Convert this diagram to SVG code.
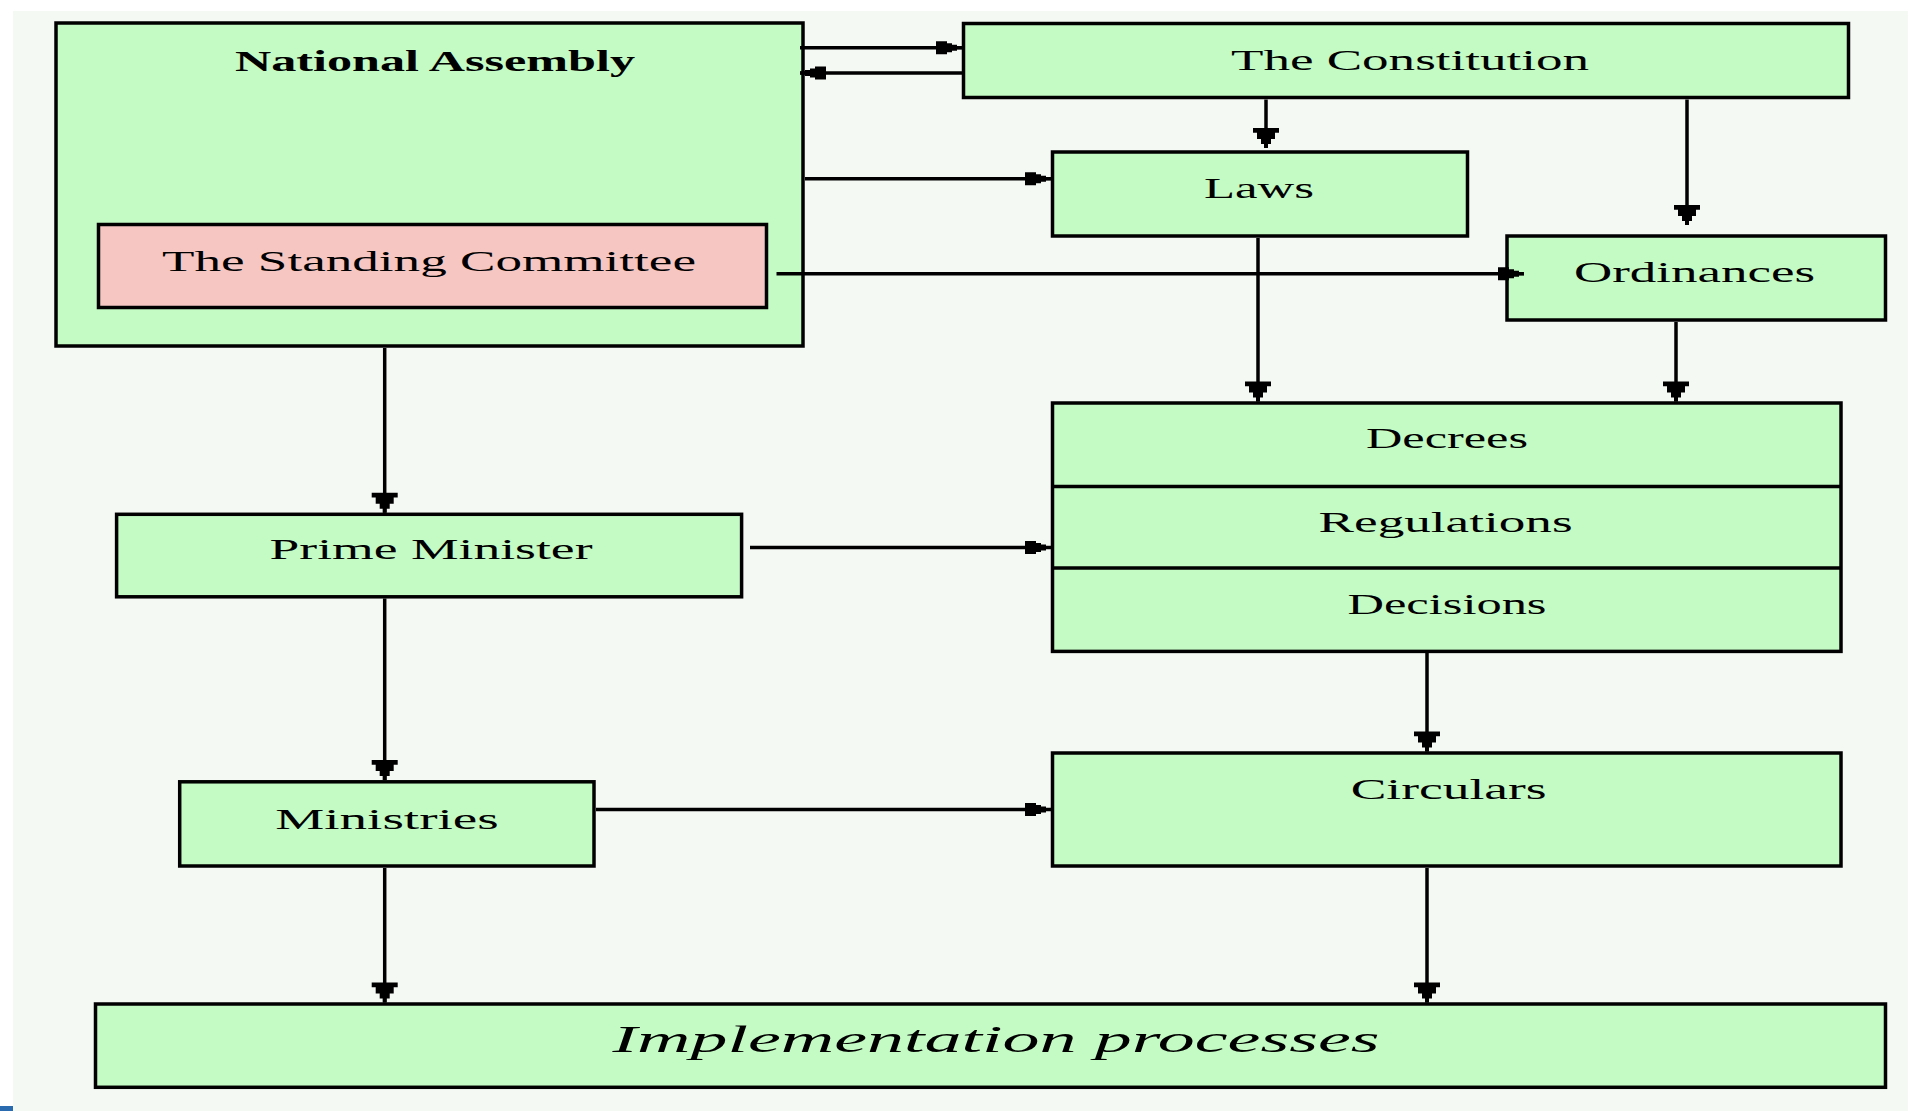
<svg xmlns="http://www.w3.org/2000/svg" width="1908" height="1111" viewBox="0 0 1908 1111">
<style>
.box{fill:#c4fac4;stroke:#000;stroke-width:3.5}
.pink{fill:#f6c6c3;stroke:#000;stroke-width:3.5}
.div{stroke:#000;stroke-width:3.5;fill:none}
.lbl{font-family:"Liberation Serif","Times New Roman",serif;font-size:29px;fill:#000;text-anchor:middle}
.bold{font-weight:bold}
.ital{font-style:italic;font-size:38px}
.con{stroke:#000;stroke-width:3.5;fill:none}
.v{marker-end:url(#av)}
.h{marker-end:url(#ah)}
</style>
<defs>
<marker id="av" markerUnits="userSpaceOnUse" orient="auto" refX="0" refY="0" markerWidth="40" markerHeight="40" overflow="visible">
<polygon points="-20,-13 -15.3,-13 -15.3,-9 -9,-9 -9,-5 -4,-5 -4,-2 0,-2 0,2 -4,2 -4,5 -9,5 -9,9 -15.3,9 -15.3,13 -20,13" fill="#000"/>
</marker>
<marker id="ah" markerUnits="userSpaceOnUse" orient="auto" refX="0" refY="0" markerWidth="40" markerHeight="40" overflow="visible">
<polygon points="-26,-6.5 -15,-6.5 -15,-4.5 -10,-4.5 -10,-3 -5,-3 -5,-1.5 0,-1.5 0,1.5 -5,1.5 -5,3 -10,3 -10,4.5 -15,4.5 -15,6.5 -26,6.5" fill="#000"/>
</marker>
</defs>
<rect x="0" y="0" width="1908" height="1111" fill="#ffffff"/>
<rect x="13" y="11" width="1895" height="1100" fill="#f4f9f4"/>
<rect x="0" y="1106" width="13" height="5" fill="#2a6bb0"/>

<g id="national-assembly">
<rect class="box" x="56" y="23" width="747" height="323"/>
<text class="lbl bold" x="435" y="71.4" textLength="400" lengthAdjust="spacingAndGlyphs">National Assembly</text>
</g>
<g id="standing-committee">
<rect class="pink" x="98.5" y="224.5" width="668" height="83"/>
<text class="lbl" x="429" y="270.7" textLength="534" lengthAdjust="spacingAndGlyphs">The Standing Committee</text>
</g>
<g id="constitution">
<rect class="box" x="963.5" y="23.5" width="885" height="74"/>
<text class="lbl" x="1410" y="69.6" textLength="358" lengthAdjust="spacingAndGlyphs">The Constitution</text>
</g>
<g id="laws">
<rect class="box" x="1052.5" y="152" width="415" height="84"/>
<text class="lbl" x="1259" y="198" textLength="110" lengthAdjust="spacingAndGlyphs">Laws</text>
</g>
<g id="ordinances">
<rect class="box" x="1507" y="236" width="378.5" height="84"/>
<text class="lbl" x="1694.5" y="282" textLength="241" lengthAdjust="spacingAndGlyphs">Ordinances</text>
</g>
<g id="decrees-regulations-decisions">
<rect class="box" x="1052.5" y="403" width="788.5" height="248.4"/>
<line class="div" x1="1052.5" y1="486.6" x2="1841" y2="486.6"/>
<line class="div" x1="1052.5" y1="568" x2="1841" y2="568"/>
<text class="lbl" x="1447" y="448" textLength="162" lengthAdjust="spacingAndGlyphs">Decrees</text>
<text class="lbl" x="1445.6" y="532" textLength="254" lengthAdjust="spacingAndGlyphs">Regulations</text>
<text class="lbl" x="1447" y="614" textLength="199" lengthAdjust="spacingAndGlyphs">Decisions</text>
</g>
<g id="prime-minister">
<rect class="box" x="116.6" y="514.3" width="625" height="82.5"/>
<text class="lbl" x="431" y="559" textLength="323" lengthAdjust="spacingAndGlyphs">Prime Minister</text>
</g>
<g id="ministries">
<rect class="box" x="179.7" y="781.8" width="414.3" height="84.2"/>
<text class="lbl" x="387" y="828.8" textLength="223.5" lengthAdjust="spacingAndGlyphs">Ministries</text>
</g>
<g id="circulars">
<rect class="box" x="1052.5" y="753" width="788.5" height="113"/>
<text class="lbl" x="1448.7" y="798.6" textLength="196" lengthAdjust="spacingAndGlyphs">Circulars</text>
</g>
<g id="implementation">
<rect class="box" x="95.5" y="1004" width="1790" height="83.3"/>
<text class="lbl ital" x="996" y="1051.6" textLength="767" lengthAdjust="spacingAndGlyphs">Implementation processes</text>
</g>

<g id="connectors">
<line class="con h" x1="800" y1="47.7" x2="962" y2="47.7"/>
<line class="con h" x1="962" y1="73" x2="800" y2="73"/>
<line class="con h" x1="805" y1="178.8" x2="1051" y2="178.8"/>
<line class="con h" x1="776.5" y1="273.8" x2="1524" y2="273.8"/>
<line class="con v" x1="1266" y1="99.5" x2="1266" y2="148"/>
<line class="con v" x1="1687" y1="99.5" x2="1687" y2="225"/>
<line class="con v" x1="1258" y1="238" x2="1258" y2="401.5"/>
<line class="con v" x1="1676" y1="322" x2="1676" y2="401.5"/>
<line class="con v" x1="384.7" y1="348" x2="384.7" y2="512.7"/>
<line class="con h" x1="750" y1="547.5" x2="1051" y2="547.5"/>
<line class="con v" x1="384.7" y1="598.5" x2="384.7" y2="780"/>
<line class="con v" x1="1427" y1="653" x2="1427" y2="751.5"/>
<line class="con h" x1="596" y1="809.5" x2="1051" y2="809.5"/>
<line class="con v" x1="384.7" y1="868" x2="384.7" y2="1002.5"/>
<line class="con v" x1="1427" y1="868" x2="1427" y2="1002.5"/>
</g>
</svg>
